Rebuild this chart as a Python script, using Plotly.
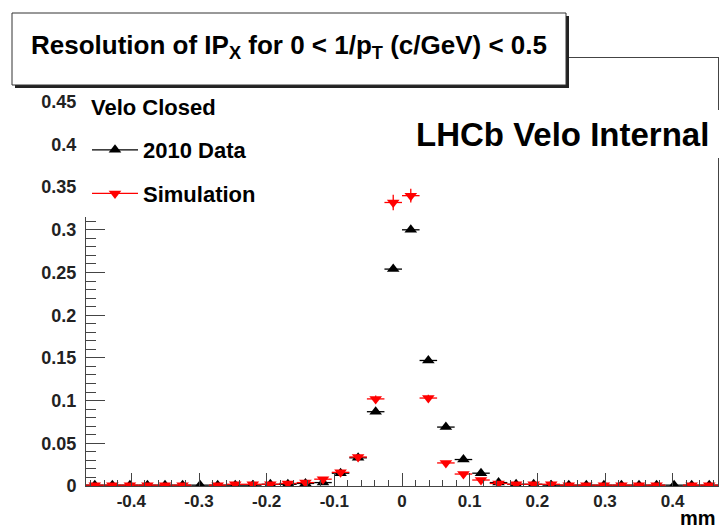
import plotly.graph_objects as go

# ---------------- data ----------------
x_min, x_max, n_bins = -0.467, 0.467, 36
data_2010 = [0.001, 0.001, 0.001, 0.001, 0.001, 0.001, 0.001, 0.001, 0.001, 0.001,
             0.002, 0.002, 0.003, 0.004, 0.015, 0.033, 0.087, 0.254, 0.300, 0.147,
             0.069, 0.031, 0.015, 0.004, 0.002, 0.002, 0.001, 0.001, 0.001, 0.001,
             0.001, 0.001, 0.001, 0.001, 0.001, 0.001]
simulation = [0.001, 0.001, 0.001, 0.001, 0.001, 0.001, None, 0.001, 0.002, 0.002,
              0.002, 0.003, 0.004, 0.008, 0.016, 0.034, 0.102, 0.332, 0.340, 0.103,
              0.027, 0.014, 0.007, 0.003, 0.002, 0.002, 0.002, 0.001, 0.001, 0.001,
              0.001, 0.001, 0.001, None, 0.001, 0.001]
simulation_err = [0, 0, 0, 0, 0, 0, 0, 0, 0, 0,
                  0, 0, 0, 0.001, 0.002, 0.003, 0.004, 0.009, 0.008, 0.004,
                  0.002, 0.001, 0, 0, 0, 0, 0, 0, 0, 0,
                  0, 0, 0, 0, 0, 0]
x_tick_vals = [-0.4, -0.3, -0.2, -0.1, 0, 0.1, 0.2, 0.3, 0.4]
x_tick_text = ["-0.4", "-0.3", "-0.2", "-0.1", "0", "0.1", "0.2", "0.3", "0.4"]
y_tick_vals = [0, 0.05, 0.1, 0.15, 0.2, 0.25, 0.3, 0.35, 0.4, 0.45]
y_tick_text = ["0", "0.05", "0.1", "0.15", "0.2", "0.25", "0.3", "0.35", "0.4", "0.45"]

bin_w = (x_max - x_min) / n_bins
centers = [x_min + (i + 0.5) * bin_w for i in range(n_bins)]

# ---------------- layout geometry (pixels) ----------------
W, H = 725, 527
L, R, T, B = 86, 7, 58, 41
PW, PH = W - L - R, H - T - B


def px(xp):
    return (xp - L) / PW


def py(yp):
    return (H - B - yp) / PH


FONT = "Liberation Sans"

fig = go.Figure()

fig.add_trace(go.Scatter(
    x=centers, y=data_2010, mode="markers", name="2010 Data", showlegend=False,
    marker=dict(symbol="triangle-up", size=11, color="black"),
    error_x=dict(type="constant", value=bin_w / 2, width=0, thickness=1.3, color="black"),
))
fig.add_trace(go.Scatter(
    x=centers, y=simulation, mode="markers", name="Simulation", showlegend=False,
    marker=dict(symbol="triangle-down", size=11, color="red"),
    error_x=dict(type="constant", value=bin_w / 2, width=0, thickness=1.3, color="red"),
    error_y=dict(type="data", array=simulation_err, width=0, thickness=1.3, color="red"),
))
# legend entries
fig.add_trace(go.Scatter(
    x=[None], y=[None], mode="lines+markers", name="2010 Data", legendgroup="a",
    line=dict(color="black", width=1.3),
    marker=dict(symbol="triangle-up", size=11, color="black"),
))
fig.add_trace(go.Scatter(
    x=[None], y=[None], mode="lines+markers", name="Simulation", legendgroup="b",
    line=dict(color="red", width=1.3),
    marker=dict(symbol="triangle-down", size=11, color="red"),
))

axis_col = "#444"
fig.update_xaxes(
    range=[x_min, x_max], showgrid=False, zeroline=False,
    showline=True, linecolor=axis_col, linewidth=1, mirror=True,
    ticks="inside", ticklen=13, tickcolor=axis_col, tickwidth=1,
    tickvals=x_tick_vals, ticktext=x_tick_text,
    tickfont=dict(family=FONT, size=17, color="#222", weight="bold"),
    minor=dict(dtick=0.02, tick0=0, ticks="inside", ticklen=6, tickcolor=axis_col, tickwidth=1),
)
fig.update_yaxes(
    range=[0, 0.5012], showgrid=False, zeroline=False,
    showline=True, linecolor=axis_col, linewidth=1, mirror=True,
    ticks="inside", ticklen=19, tickcolor=axis_col, tickwidth=1,
    tickvals=y_tick_vals, ticktext=y_tick_text, ticklabelstandoff=5,
    tickfont=dict(family=FONT, size=18, color="#222", weight="bold"),
    minor=dict(dtick=0.01, tick0=0, ticks="inside", ticklen=10, tickcolor=axis_col, tickwidth=1),
)

shapes = [
    # title box shadow + box
    dict(type="rect", xref="paper", yref="paper", layer="above",
         x0=px(15), x1=px(569), y0=py(16), y1=py(88),
         fillcolor="#222", line=dict(width=0)),
    dict(type="rect", xref="paper", yref="paper", layer="above",
         x0=px(12), x1=px(566), y0=py(13), y1=py(85),
         fillcolor="white", line=dict(color="#333", width=1)),
    # legend white box (covers axis)
    dict(type="rect", xref="paper", yref="paper", layer="above",
         x0=px(83), x1=px(280), y0=py(88), y1=py(217),
         fillcolor="white", line=dict(width=0)),
    # LHCb label white box
    dict(type="rect", xref="paper", yref="paper", layer="above",
         x0=px(410), x1=px(722), y0=py(110), y1=py(158),
         fillcolor="white", line=dict(width=0)),
]

annotations = [
    dict(text="Resolution of IP<sub>X</sub> for 0 < 1/p<sub>T</sub> (c/GeV) < 0.5",
         xref="paper", yref="paper", x=px(289), y=py(46), xanchor="center", yanchor="middle",
         showarrow=False, font=dict(family=FONT, size=26, color="black", weight="bold")),
    dict(text="Velo Closed", xref="paper", yref="paper", x=px(89), y=py(107),
         xanchor="left", yanchor="middle", showarrow=False,
         font=dict(family=FONT, size=22, color="black", weight="bold")),
    dict(text="LHCb Velo Internal", xref="paper", yref="paper", x=px(562), y=py(134),
         xanchor="center", yanchor="middle", showarrow=False,
         font=dict(family=FONT, size=33, color="black", weight="bold")),
    dict(text="mm", xref="paper", yref="paper", x=1.0, y=py(518),
         xanchor="right", yanchor="middle", showarrow=False,
         font=dict(family=FONT, size=20, color="black", weight="bold")),
]

fig.update_layout(
    width=W, height=H,
    margin=dict(l=L, r=R, t=T, b=B, autoexpand=False),
    paper_bgcolor="white", plot_bgcolor="white",
    shapes=shapes, annotations=annotations,
    showlegend=True,
    legend=dict(x=px(87), y=py(129), xanchor="left", yanchor="top",
                bgcolor="rgba(0,0,0,0)", borderwidth=0, itemwidth=46,
                tracegroupgap=12, traceorder="grouped",
                font=dict(family=FONT, size=22, color="black", weight="bold")),
)

fig.write_html("out.html", config={"displayModeBar": False},
               post_script="document.body.style.margin='0';document.body.style.padding='0';")
